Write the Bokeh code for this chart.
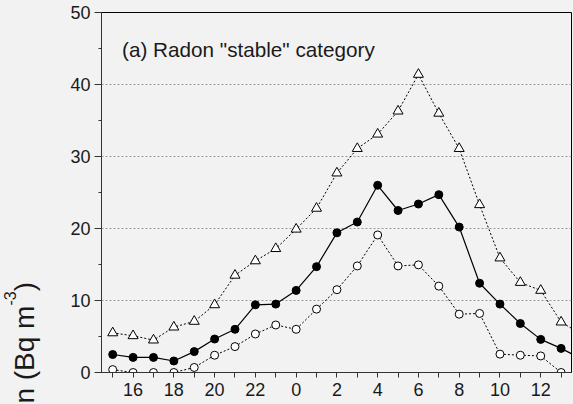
from bokeh.plotting import figure
from bokeh.layouts import row
from bokeh.models import Range1d, FixedTicker, SingleIntervalTicker, Label, Div
from bokeh.embed import file_html
from bokeh.resources import INLINE

# Hour of day for each point (local time, evening through next midday)
hours = [15, 16, 17, 18, 19, 20, 21, 22, 23, 0, 1, 2, 3, 4, 5, 6, 7, 8, 9, 10, 11, 12, 13, 14]

# Radon concentration (Bq m-3), "stable" category
radon_upper = [5.5, 5.1, 4.5, 6.3, 7.1, 9.4, 13.5, 15.5, 17.2, 19.9, 22.8, 27.7, 31.1,
               33.1, 36.3, 41.4, 36.0, 31.1, 23.3, 15.9, 12.5, 11.4, 7.0, 5.3]
radon_mean = [2.5, 2.1, 2.1, 1.6, 2.9, 4.65, 6.0, 9.4, 9.5, 11.4, 14.7, 19.4, 20.9,
              26.0, 22.5, 23.4, 24.7, 20.2, 12.4, 9.5, 6.8, 4.6, 3.35, 1.9]
radon_lower = [0.4, 0.0, 0.0, 0.0, 0.7, 2.4, 3.6, 5.35, 6.6, 6.0, 8.8, 11.5, 14.8,
               19.1, 14.8, 14.95, 12.0, 8.1, 8.2, 2.55, 2.4, 2.3, 0.0, 0.0]

y_ticks = [0, 10, 20, 30, 40, 50]
title_text = '(a) Radon "stable" category'
y_title = "Radon (Bq m"
y_title_sup = "-3"
y_title_end = ")"

FONT = "Liberation Sans"
BG = "#f2f2f2"
INK = "#1a1a1a"

LABEL_W = 45  # strip holding the rotated y-axis title
HEIGHT = 404

x = list(range(len(hours)))
tick_labels = {i: (str(h) if h % 2 == 0 else "") for i, h in enumerate(hours)}

# ---- main panel ----
p = figure(width=573 - LABEL_W, height=HEIGHT,
           x_range=Range1d(-0.55, 22.51), y_range=Range1d(0, 50),
           output_backend="svg", toolbar_location=None,
           min_border_left=101 - LABEL_W, min_border_right=2,
           min_border_top=12, min_border_bottom=32)

p.background_fill_color = BG
p.border_fill_color = BG
p.outline_line_color = "black"
p.outline_line_width = 1

# x axis: a tick every hour, labels on even hours
p.xaxis.ticker = FixedTicker(ticks=x[:-1])
p.xaxis.major_label_overrides = tick_labels
p.xaxis.major_tick_out = 5
p.xaxis.major_tick_in = 0
p.xaxis.major_label_standoff = 5

# y axis
p.yaxis.ticker = SingleIntervalTicker(interval=10, num_minor_ticks=2)
p.yaxis.major_tick_out = 7
p.yaxis.major_tick_in = 0
p.yaxis.minor_tick_out = 3
p.yaxis.minor_tick_in = 0
p.yaxis.major_label_standoff = 4

for ax in (p.xaxis, p.yaxis):
    ax.axis_line_color = "#333333"
    ax.major_tick_line_color = "#333333"
    ax.major_label_text_font = FONT
    ax.major_label_text_font_size = "18px"
    ax.major_label_text_color = INK
p.xaxis.minor_tick_line_color = None
p.yaxis.minor_tick_line_color = "#333333"

p.xgrid.visible = False
p.ygrid.ticker = FixedTicker(ticks=y_ticks[1:-1])
p.ygrid.grid_line_color = "#9a9a9a"
p.ygrid.grid_line_dash = "2 2"
p.ygrid.grid_line_width = 1

# series lines
p.line(x, radon_upper, line_color="black", line_width=1, line_dash="2 2")
p.line(x, radon_lower, line_color="black", line_width=1, line_dash="2 2")
p.line(x, radon_mean, line_color="black", line_width=1.2)

# markers
p.scatter(x, radon_upper, marker="triangle", size=10,
          fill_color="white", line_color="black", line_width=1)
p.scatter(x, radon_lower, marker="circle", size=8,
          fill_color="white", line_color="black", line_width=1)
p.scatter(x, radon_mean, marker="circle", size=8,
          fill_color="black", line_color="black", line_width=1)

# panel title
p.add_layout(Label(x=0.46, y=44.9, text=title_text, text_font=FONT,
                   text_font_size="20.7px", text_color=INK,
                   text_baseline="alphabetic"))

# ---- strip with the rotated y-axis title (runs off the bottom edge) ----
# the text is rotated a quarter turn counter-clockwise about its end point
y_title_html = (
    f'<div style="position:relative;width:{LABEL_W}px;height:{HEIGHT}px;overflow:hidden;'
    f'background:{BG};font-family:\'{FONT}\';color:{INK};">'
    '<div style="position:absolute;left:11px;top:282px;white-space:nowrap;'
    'font-size:28px;line-height:28px;transform-origin:0 0;'
    'transform:rotate(-90deg) translateX(-100%);">'
    f'{y_title}<span style="font-size:16px;position:relative;top:-18px;">{y_title_sup}</span>'
    f'{y_title_end}</div></div>'
)
strip = Div(text=y_title_html, width=LABEL_W, height=HEIGHT, margin=0)

layout = row(strip, p, spacing=0)
layout.styles = {"background-color": BG}

open("out.html", "w").write(file_html(layout, INLINE))
